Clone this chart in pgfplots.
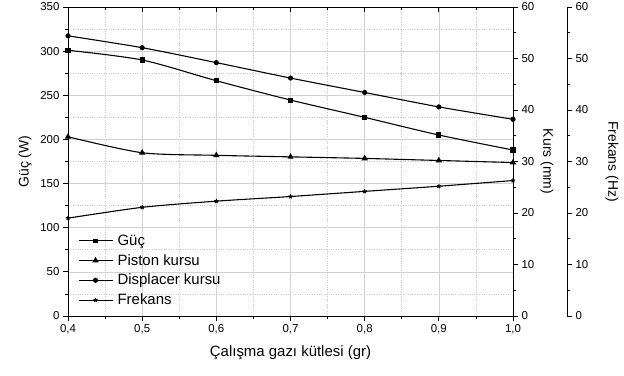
\documentclass[border=0pt]{standalone}
\usepackage{pgfplots}
\pgfplotsset{compat=1.18}
\usepackage{fontspec}
\setmainfont{Liberation Sans}

\begin{document}
\begin{tikzpicture}
\path[use as bounding box] (-68bp,-60bp) rectangle (556bp,316bp);
\tikzset{lab/.style={font=\fontsize{14}{16}\selectfont}}
\newcommand{\lf}{\fontsize{15}{17}\selectfont}
\pgfplotsset{
 common/.style={
  scale only axis, width=445bp, height=309bp,
  xmin=0.4, xmax=1.0,
  /pgf/number format/assume math mode=true,
  tick label style={font=\fontsize{11.5}{13}\selectfont},
  tick align=outside,
  major tick length=5bp, minor tick length=3bp,
  every tick/.style={black, line width=0.8pt},
  axis line style={line width=0.9pt, black},
 },
 ser/.style={black, line width=1.1pt, smooth, tension=0.45},
}
% main axis: power
\begin{axis}[common, name=main,
  ymin=0, ymax=350, ytick={0,50,...,350}, minor y tick num=1,
  xtick={0.4,0.5,0.6,0.7,0.8,0.9,1.0}, minor x tick num=1,
  xtick pos=left, ytick pos=left,
  xticklabel={\pgfmathprintnumber[fixed,fixed zerofill,precision=1,use comma]{\tick}},
  grid=both,
  major grid style={gray!35, line width=0.6pt},
  minor grid style={gray!40, dotted, line width=0.6pt},
  xlabel={\fontsize{15}{17}\selectfont Çalışma gazı kütlesi (gr)},
  ylabel={Güç (W)},
  every axis x label/.style={at={(axis description cs:0.5,0)}, yshift=-37bp, anchor=center},
  every axis y label/.style={lab, at={(axis description cs:0,0.5)}, xshift=-43bp, rotate=90, anchor=center},
]
\addplot[ser, mark=square*, mark size=2bp] coordinates {
 (0.4,301) (0.5,290) (0.6,266.5) (0.7,244.6) (0.8,225) (0.9,205) (1.0,188)};
\end{axis}
% top ticks (inward)
\begin{axis}[common, hide y axis, axis x line*=top,
  ymin=0, ymax=350,
  xtick={0.4,0.5,0.6,0.7,0.8,0.9,1.0}, minor x tick num=1,
  xticklabels={}, tick align=inside]
\end{axis}
% stroke axis
\begin{axis}[common, hide x axis, axis y line*=right,
  ymin=0, ymax=60, ytick={0,10,...,60}, minor y tick num=1,
  ylabel={Kurs (mm)},
  every axis y label/.style={lab, at={(axis description cs:1,0.5)}, xshift=34bp, rotate=-90, anchor=center},
  legend style={draw=none, fill=none, at={(axis description cs:0.022,0.268)}, anchor=north west,
    row sep=4.5bp, column sep=3bp, inner sep=0pt, nodes={inner sep=1.5bp}},
  legend cell align=left,
  legend image code/.code={\draw[mark repeat=2,mark phase=2,#1] plot coordinates {(0bp,0bp) (17bp,0bp) (34bp,0bp)};},
]
\addlegendimage{black, line width=1.1pt, mark=square*, mark size=1.7bp}
\addlegendentry{\lf Güç}
\addplot[ser, mark=triangle*, mark size=2.6bp] coordinates {
 (0.4,34.8) (0.5,31.7) (0.6,31.2) (0.7,30.9) (0.8,30.6) (0.9,30.2) (1.0,29.8)};
\addlegendentry{\lf Piston kursu}
\addplot[ser, mark=*, mark size=2bp] coordinates {
 (0.4,54.4) (0.5,52.1) (0.6,49.2) (0.7,46.2) (0.8,43.4) (0.9,40.6) (1.0,38.2)};
\addlegendentry{\lf Displacer kursu}
\addplot[ser, mark=star, mark size=2.2bp] coordinates {
 (0.4,19.0) (0.5,21.1) (0.6,22.3) (0.7,23.2) (0.8,24.2) (0.9,25.2) (1.0,26.3)};
\addlegendentry{\lf Frekans}
\end{axis}
% frequency axis (scale only)
\begin{axis}[common, at={(54bp,0)}, hide x axis, axis y line*=right,
  ymin=0, ymax=60, ytick={0,10,...,60}, minor y tick num=1,
  ylabel={Frekans (Hz)},
  every axis y label/.style={lab, at={(axis description cs:1,0.5)}, xshift=45bp, rotate=-90, anchor=center},
]
\addplot[draw=none] coordinates {(0.5,0)};
\end{axis}
\end{tikzpicture}
\end{document}
